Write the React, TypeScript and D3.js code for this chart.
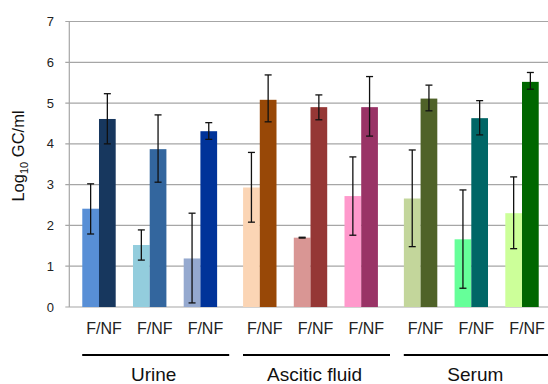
import React from "react";
import * as d3 from "d3";

// groups and pairs (F = filtered, NF = non-filtered)
const groups = ["Urine", "Ascitic fluid", "Serum"];
const pairLabel = "F/NF";
const yTicks = [0, 1, 2, 3, 4, 5, 6, 7];

const fValues = [2.41, 1.52, 1.19, 2.93, 1.7, 2.72, 2.66, 1.66, 2.3];
const fLow = [1.79, 1.15, 0.1, 2.08, 1.69, 1.76, 1.48, 0.46, 1.43];
const fHigh = [3.02, 1.89, 2.3, 3.79, 1.71, 3.68, 3.85, 2.87, 3.19];

const nfValues = [4.61, 3.87, 4.31, 5.08, 4.9, 4.9, 5.11, 4.63, 5.52];
const nfLow = [4.0, 3.06, 4.11, 4.54, 4.59, 4.19, 4.81, 4.22, 5.34];
const nfHigh = [5.23, 4.71, 4.52, 5.69, 5.2, 5.65, 5.44, 5.06, 5.75];

const fColors = ["#588fd6", "#93cddd", "#95a9cf", "#fbd5b5", "#d99694", "#ff99cc", "#c3d69b", "#66ff99", "#ccff99"];
const nfColors = ["#17375e", "#33669e", "#003399", "#984807", "#953735", "#993366", "#4f6228", "#006666", "#006600"];

const width = 548;
const height = 384;
const font = "'Liberation Sans', Arial, sans-serif";

const App = () => {
  const y = d3.scaleLinear().domain([0, 7]).range([307, 21.5]);

  const groupX = d3.scaleBand<string>().domain(groups).range([69.3, 551.7]).paddingInner(0);
  const pairX = d3
    .scaleBand<number>()
    .domain([0, 1, 2])
    .range([0, groupX.step()])
    .paddingInner(0.341)
    .paddingOuter(0.256);
  const barX = d3.scaleBand<string>().domain(["F", "NF"]).range([0, pairX.bandwidth()]);

  const pairStart = (i: number) => (groupX(groups[Math.floor(i / 3)]) ?? 0) + (pairX(i % 3) ?? 0);
  const bw = barX.bandwidth();

  const series = [
    { key: "F", values: fValues, low: fLow, high: fHigh, colors: fColors },
    { key: "NF", values: nfValues, low: nfLow, high: nfHigh, colors: nfColors },
  ];

  const left = 69.3;
  const right = width;

  return (
    <svg
      width={width}
      height={height}
      style={{ position: "absolute", left: 0, top: 0, background: "#fff" }}
      fontFamily={font}
    >
      {/* gridlines */}
      {yTicks.map(t => (
        <g key={t}>
          <line x1={left - 4} x2={right} y1={y(t)} y2={y(t)} stroke="#a6a6a6" strokeWidth={1.2} />
          <text x={54} y={y(t)} dy="0.35em" textAnchor="end" fontSize={13} fill="#222">
            {t}
          </text>
        </g>
      ))}
      <line x1={left} x2={left} y1={y(7)} y2={y(0)} stroke="#a6a6a6" strokeWidth={1.2} />

      {/* bars */}
      {series.map(s =>
        s.values.map((v, i) => (
          <rect
            key={s.key + i}
            x={pairStart(i) + (barX(s.key) ?? 0)}
            y={y(v)}
            width={bw}
            height={y(0) - y(v)}
            fill={s.colors[i]}
          />
        ))
      )}

      {/* error bars */}
      {series.map(s =>
        s.values.map((v, i) => {
          const cx = pairStart(i) + (barX(s.key) ?? 0) + bw / 2;
          return (
            <g key={"e" + s.key + i} stroke="#111" strokeWidth={1.3}>
              <line x1={cx} x2={cx} y1={y(s.high[i])} y2={y(s.low[i])} />
              <line x1={cx - 3.5} x2={cx + 3.5} y1={y(s.high[i])} y2={y(s.high[i])} />
              <line x1={cx - 3.5} x2={cx + 3.5} y1={y(s.low[i])} y2={y(s.low[i])} />
            </g>
          );
        })
      )}

      {/* pair labels */}
      {fValues.map((_, i) => (
        <text
          key={"p" + i}
          x={pairStart(i) + pairX.bandwidth() / 2 + 5}
          y={334}
          textAnchor="middle"
          fontSize={16}
          fill="#222"
        >
          {pairLabel}
        </text>
      ))}

      {/* group lines and labels */}
      {groups.map(g => {
        const c = (groupX(g) ?? 0) + groupX.bandwidth() / 2;
        return (
          <g key={g}>
            <line x1={c + 6 - 73.5} x2={c + 6 + 73.5} y1={355} y2={355} stroke="#000" strokeWidth={2.2} />
            <text x={c + 4} y={381} textAnchor="middle" fontSize={19} fill="#111">
              {g}
            </text>
          </g>
        );
      })}

      {/* y axis title */}
      <text transform="translate(24,156) rotate(-90)" textAnchor="middle" fontSize={16.5} fill="#111">
        Log
        <tspan fontSize={11} dy={4}>
          10
        </tspan>
        <tspan dy={-4}> GC/ml</tspan>
      </text>
    </svg>
  );
};

export default App;
